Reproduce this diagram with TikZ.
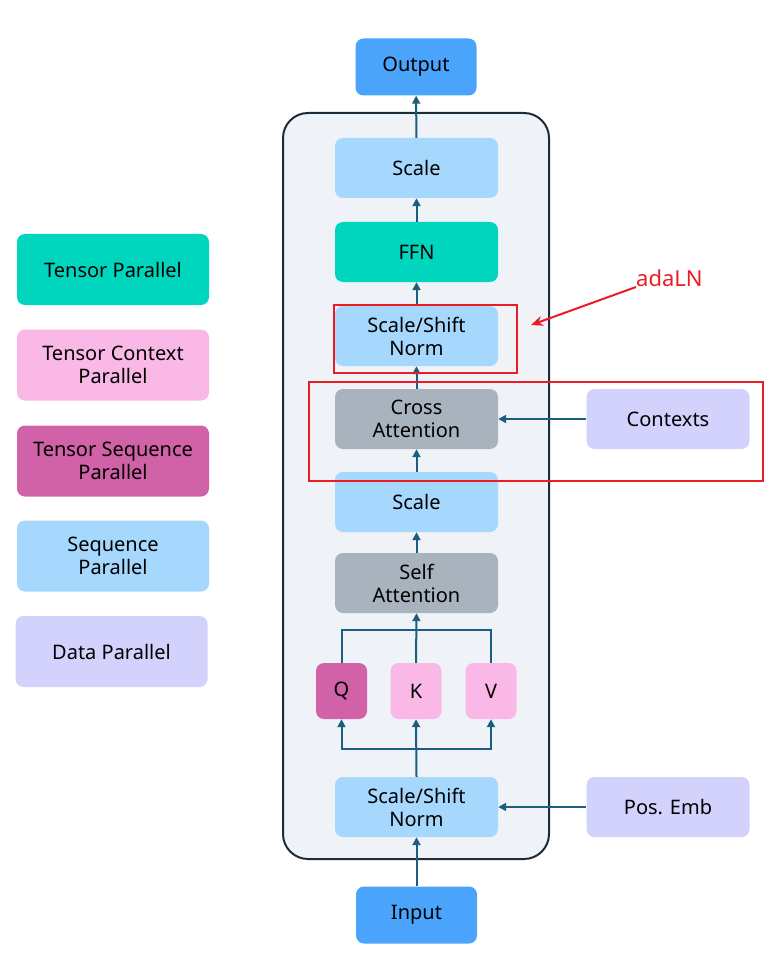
\documentclass[tikz,border=0pt]{standalone}
\usepackage{fontspec}
\setmainfont{Noto Sans}
\usetikzlibrary{arrows.meta}

\definecolor{ioblue}{HTML}{4AA4FB}
\definecolor{seqblue}{HTML}{A6D8FE}
\definecolor{tpteal}{HTML}{00D5BE}
\definecolor{attgray}{HTML}{A8B3BE}
\definecolor{dplav}{HTML}{D2D2FC}
\definecolor{tcpink}{HTML}{F9B8E6}
\definecolor{tspink}{HTML}{D162A8}
\definecolor{flowc}{HTML}{1B5F80}
\definecolor{framebg}{HTML}{EFF3F8}
\definecolor{framec}{HTML}{1B2D3A}
\definecolor{adared}{HTML}{EC1C24}

\tikzset{
  blk/.style={rounded corners=8pt, minimum width=163pt, minimum height=60pt,
    align=center, inner sep=0pt, font=\fontsize{20}{23}\selectfont},
  io/.style={blk, fill=ioblue, minimum width=121pt, minimum height=57pt},
  legend/.style={blk, minimum width=192pt, minimum height=71pt},
  qkv/.style={blk, minimum width=51pt, minimum height=56pt},
  flow/.style={draw=flowc, line width=2pt, -{Triangle[width=8pt,length=8pt]}},
  link/.style={draw=flowc, line width=2pt},
  redbox/.style={draw=adared, line width=1.5pt}
}

\begin{document}
\begin{tikzpicture}[x=1pt, y=-1pt]
\useasboundingbox (0,0) rectangle (774,973);
% block frame
\draw[fill=framebg, draw=framec, line width=2pt, rounded corners=25pt] (283,113) rectangle (549,859);

\node[io] (output) at (416,67) {Output};
\node[blk, fill=seqblue] (scaletop) at (416.5,168) {Scale};
\node[blk, fill=tpteal] (ffn) at (416.5,252) {FFN};
\node[blk, fill=seqblue] (normtop) at (416.5,336) {Scale/Shift\\Norm};
\node[blk, fill=attgray] (crossatt) at (416.5,419) {Cross\\Attention};
\node[blk, fill=dplav] (contexts) at (668,419) {Contexts};
\node[blk, fill=seqblue] (scalelow) at (416.5,502) {Scale};
\node[blk, fill=attgray] (selfatt) at (416.5,583) {Self\\Attention};
\node[qkv, fill=tspink] (q) at (341.5,691) {Q};
\node[qkv, fill=tcpink] (k) at (416,691) {K};
\node[qkv, fill=tcpink] (v) at (491,691) {V};
\node[blk, fill=seqblue] (normlow) at (416.5,807) {Scale/Shift\\Norm};
\node[blk, fill=dplav] (posemb) at (668,807) {Pos. Emb};
\node[io] (input) at (416.5,915) {Input};

% legend
\node[legend, fill=tpteal] (legtp) at (113,269.5) {Tensor Parallel};
\node[legend, fill=tcpink] (legtcp) at (113,365) {Tensor Context\\Parallel};
\node[legend, fill=tspink] (legtsp) at (113,461) {Tensor Sequence\\Parallel};
\node[legend, fill=seqblue] (legsp) at (113,556) {Sequence\\Parallel};
\node[legend, fill=dplav] (legdp) at (111.5,651.5) {Data Parallel};

% arrows
\draw[flow] (input) -- (normlow);
\draw[flow] (posemb) -- (normlow);
\coordinate (splitq) at (416,749);
\coordinate (joinq) at (416,630);
\draw[flow] (normlow.north) -- (k.south);
\draw[flow] (splitq) -| (q.south);
\draw[flow] (splitq) -| (v.south);
\draw[link] (q.north) |- (joinq) -| (v.north);
\draw[flow] (k.north) -- (selfatt.south);
\draw[flow] (selfatt) -- (scalelow);
\draw[flow] (scalelow) -- (crossatt);
\draw[flow] (contexts) -- (crossatt);
\draw[flow] (crossatt) -- (normtop);
\draw[flow] (normtop) -- (ffn);
\draw[flow] (ffn) -- (scaletop);
\draw[flow] (scaletop) -- (output);

% adaLN marks
\draw[redbox] (334,305) rectangle (517,373);
\draw[redbox] (309,382) rectangle (763,481);
\node[inner sep=0pt, anchor=south west, text=adared, font=\fontsize{22}{26}\selectfont] (adaln) at (636,287) {adaLN};
\coordinate (adatip) at (531,325);
\draw[draw=adared, line width=2pt, -{Stealth[width=10pt,length=12pt]}] (adaln.south west) -- (adatip);
\end{tikzpicture}
\end{document}
